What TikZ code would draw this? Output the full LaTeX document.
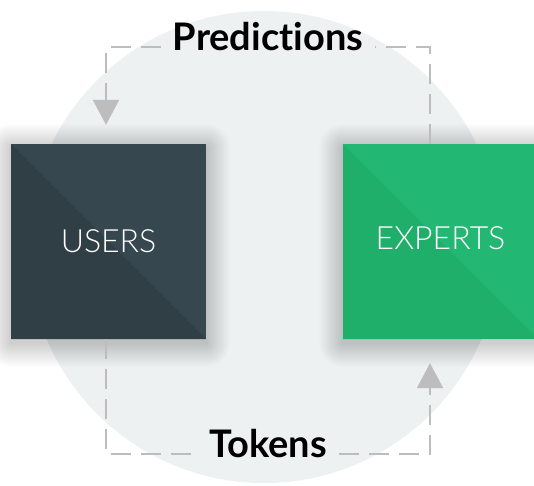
\documentclass[tikz,border=0pt]{standalone}
\usepackage{fontspec}
\setmainfont{Lato}[Ligatures=NoCommon]
\newfontfamily\thinfont{Lato Light}
\usetikzlibrary{arrows.meta, calc, positioning}
\definecolor{slatelight}{HTML}{37474F}
\definecolor{slatedark}{HTML}{303E46}
\definecolor{greenlight}{HTML}{22B772}
\definecolor{greendark}{HTML}{20AF6A}
\definecolor{circlegray}{HTML}{EEF1F2}
\definecolor{dashgray}{HTML}{BDBDBD}
\tikzset{%
    box/.style={%
        rectangle,
        minimum width=195pt,
        minimum height=195pt,
        inner sep=0pt,
        text=white,
        font=\thinfont\fontsize{32}{38}\selectfont,
        text centered,
    },
    users/.style={%
        box,
        fill=slatelight,
        path picture={\fill[slatedark] (path picture bounding box.north west)
            -- (path picture bounding box.south east)
            -- (path picture bounding box.south west) -- cycle;},
    },
    experts/.style={%
        box,
        fill=greenlight,
        path picture={\fill[greendark] (path picture bounding box.north west)
            -- (path picture bounding box.south east)
            -- (path picture bounding box.south west) -- cycle;},
    },
    softshadow/.style={%
        fill=black,
        fill opacity=0.008,
    },
    flowlabel/.style={%
        font=\bfseries\fontsize{38}{44}\selectfont,
        inner xsep=12pt,
        inner ysep=2pt,
    },
    edge/.style={%
        draw=dashgray,
        line width=2pt,
        dash pattern=on 20pt off 10pt,
    },
    tip/.style={%
        -{Triangle[width=26pt, length=25pt]},
    },
}

\begin{document}
\begin{tikzpicture}[x=1pt, y=-1pt]
	\useasboundingbox (0,0) rectangle (534,485);
	\fill[white] (0,0) rectangle (534,485);
	\fill[circlegray] (264,247) circle (236pt);

	% soft shadows under the two boxes
	\foreach \s in {1,...,24} {
		\fill[softshadow, rounded corners=\s pt] (11-\s, 148-\s) rectangle (206+\s, 343+\s);
		\fill[softshadow, rounded corners=\s pt] (343-\s, 148-\s) rectangle (538+\s, 343+\s);
	}

	\node [users] at (108.5, 241.5) (users) {USERS};
	\node [experts] at (440.5, 241.5) (experts) {\raisebox{6pt}{EXPERTS}};

	\node [flowlabel, anchor=base] at (268, 50) (pred) {Predictions};
	\node [flowlabel, anchor=base] at (268, 457) (tokens) {Tokens};

	\draw[edge] ([xshift=-10.5pt]experts.north) |- (pred.mid east);
	\draw[edge, tip, shorten >=19pt] (pred.mid west) -| ([xshift=-2.5pt]users.north);

	\draw[edge] ([xshift=-2.5pt]users.south) |- (tokens.mid west);
	\draw[edge, tip, shorten >=24pt] (tokens.mid east) -| ([xshift=-10.5pt]experts.south);
\end{tikzpicture}
\end{document}
